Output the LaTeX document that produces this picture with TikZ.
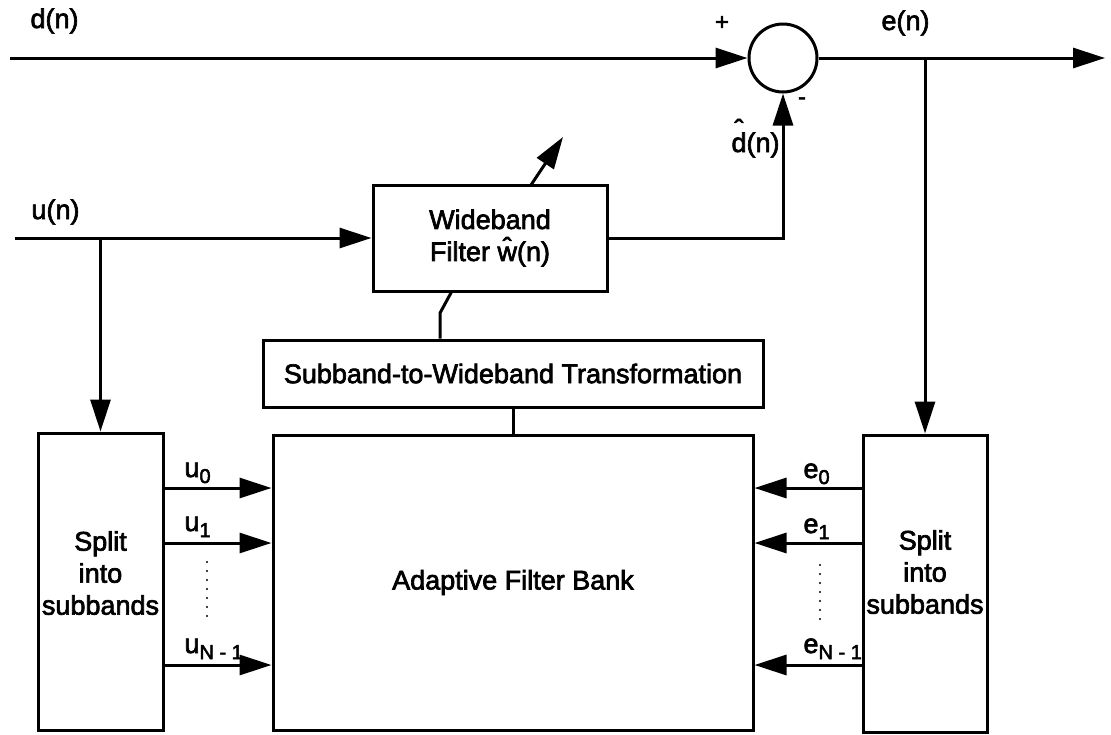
\documentclass[tikz,border=0pt]{standalone}
\usepackage{fontspec}
\setmainfont{Liberation Sans}[FakeBold=2.5]
\usetikzlibrary{arrows.meta}
\newcommand{\hatup}[2]{\ooalign{#1\cr\hidewidth\raisebox{#2}{ˆ}\hidewidth\cr}}
\newcommand{\lsub}[1]{\raisebox{-6pt}{\fontsize{20}{20}\selectfont #1}}
\tikzset{
  arr/.style={-{Triangle[length=32pt,width=20pt]}},
  blk/.style={draw, rectangle, inner sep=0pt, align=center},
  lbl/.style={inner sep=0pt, anchor=base west},
  sgn/.style={inner sep=0pt, font=\fontsize{24}{24}\selectfont}
}
\begin{document}
\begin{tikzpicture}[x=1pt, y=-1pt, line width=3pt,
  font=\fontsize{27}{32}\selectfont]
\useasboundingbox (0,0) rectangle (1111,734);
% blocks
\node[draw, circle, minimum size=68pt, inner sep=0pt] (sum) at (783,58) {};
\node[blk, minimum width=234pt, minimum height=106pt] (wb) at (490,238) {Wideband\\Filter \hatup{w}{0.16em}(n)};
\node[blk, minimum width=500pt, minimum height=67pt] (tr) at (513,373.5) {Subband-to-Wideband Transformation};
\node[blk, minimum width=480pt, minimum height=295pt] (afb) at (513,582.5) {Adaptive Filter Bank};
\node[blk, minimum width=125pt, minimum height=297pt] (ls) at (100.5,581.5) {};
\node[blk, minimum width=124pt, minimum height=297pt] (rs) at (925,583.5) {};
\node[align=center, inner sep=0pt] (lst) at (100.5,573) {Split\\into\\subbands};
\node[align=center, inner sep=0pt] (rst) at (925,572) {Split\\into\\subbands};
% coordinates
\coordinate (din) at (10,58);
\coordinate (eout) at (1105,58);
\coordinate (eb) at (925,58);
\coordinate (uin) at (15,238);
\coordinate (ub) at (100.5,238);
\coordinate (tune0) at (531,185);
\coordinate (tune1) at (563,137);
\coordinate (wbk) at (452,291);
\coordinate (k) at (440,313);
% top signals
\draw[arr] (din) -- (sum.west);
\draw[arr] (sum.east) -- (eout);
\draw[arr] (eb) -- (rs.north);
\draw[arr] (uin) -- (wb.west);
\draw[arr] (ub) -- (ls.north);
\draw[arr] (wb.east) -| (sum.south);
\draw[arr] (tune0) -- (tune1);
\draw (wbk) -- (k) -- (k |- tr.north);
\draw (tr.south) -- (afb.north);
% subband arrows
\foreach \yy in {488,543,665} {
  \draw[arr] (ls.east |- 0,\yy) -- (afb.west |- 0,\yy);
  \draw[arr] (rs.west |- 0,\yy) -- (afb.east |- 0,\yy);
}
\foreach \yy in {562,571,...,617} {
  \fill (207,\yy) circle (1.2pt);
  \fill (820,\yy+3) circle (1.2pt);
}
% labels
\node[lbl] (ld) at (29,28) {d(n)};
\node[lbl] (lu) at (30,219) {u(n)};
\node[lbl] (le) at (880,30) {e(n)};
\node[lbl] (ldh) at (730,152) {\hatup{d}{0.5em}(n)};
\node[sgn] (lp) at (722,23) {+};
\node[sgn] (lm) at (802,101) {-};
\node[lbl] (u0) at (183,477) {u\lsub{0}};
\node[lbl] (u1) at (183,531) {u\lsub{1}};
\node[lbl] (uN) at (183,653) {u\lsub{N - 1}};
\node[lbl] (e0) at (802,478) {e\lsub{0}};
\node[lbl] (e1) at (802,533) {e\lsub{1}};
\node[lbl] (eN) at (802,653) {e\lsub{N - 1}};
\end{tikzpicture}
\end{document}
